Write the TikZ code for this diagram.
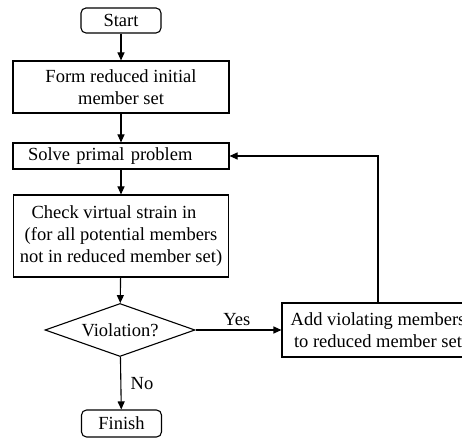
\documentclass[tikz,border=0pt]{standalone}
\usepackage{fontspec}
\setmainfont{Liberation Serif}
\usetikzlibrary{shapes.geometric,arrows.meta}

\tikzset{
  box/.style={draw, rectangle, inner sep=0pt, font=\fontsize{18.5}{22}\selectfont},
  term/.style={box, rounded corners=5pt},
  arr/.style={-{Triangle[length=8pt,width=7pt]}},
}

\begin{document}
\begin{tikzpicture}[x=1pt,y=1pt,line width=1.1pt]
    \useasboundingbox (0,0) rectangle (462,438);
    \clip (0,0) rectangle (462,438);

    % boxes, top to bottom
    \node[term, minimum width=80pt, minimum height=25pt] (start) at (121,417.5) {Start};
    \node[box, minimum width=216pt, minimum height=52pt, align=center] (form) at (121,351)
      {Form reduced initial\\member set};
    \node[box, minimum width=216pt, minimum height=26pt, inner xsep=15pt, text width=186pt, align=left] (solve) at (121,282)
      {Solve primal problem};
    \node[box, minimum width=215pt, minimum height=82pt, align=center] (check) at (121,202)
      {Check virtual strain in\hspace{14pt}\mbox{}\\(for all potential members\\not in reduced member set)};
    \node[draw, diamond, aspect=2.8, inner sep=0pt, minimum width=150pt, minimum height=53pt,
      font=\fontsize{18.5}{22}\selectfont] (viol) at (120,108) {Violation?};
    \node[box, minimum width=192pt, minimum height=54pt, align=center] (add) at (378,108)
      {Add violating members\\to reduced member set};
    \node[term, minimum width=80pt, minimum height=27pt] (finish) at (121.5,14.5) {Finish};

    % connectors
    \draw[arr] (start) -- (form);
    \draw[arr] (form) -- (solve);
    \draw[arr] (solve) -- (check);
    \draw[arr] (check) -- (viol);
    \draw[arr] (viol) -- node[above, font=\fontsize{18.5}{22}\selectfont, pos=0.48] {Yes} (add);
    \draw[arr] (viol) -- node[right, font=\fontsize{18.5}{22}\selectfont, xshift=6pt] {No} (finish);
    \draw[arr] (add.north) |- (solve.east);
\end{tikzpicture}
\end{document}
